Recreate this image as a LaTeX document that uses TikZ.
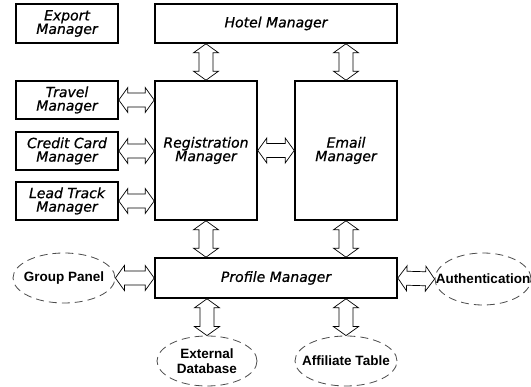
\documentclass[tikz,border=0pt]{standalone}
\usepackage{fontspec}
\setmainfont{DejaVu Sans}
\newfontfamily\boxfont{DejaVu Sans Oblique}[FakeBold=0.7]
\newfontfamily\ellfont{Liberation Sans Bold}
\usetikzlibrary{calc,shapes.geometric}
\newcommand{\zw}[1]{\makebox[0pt]{#1}}
\tikzset{
  box/.style={draw, line width=1.6pt, align=center, inner sep=0pt,
    font=\boxfont\fontsize{14}{13.5}\selectfont},
  oval/.style={ellipse, draw=black!70, line width=0.8pt, dash pattern=on 8pt off 5pt,
    inner sep=0pt, align=center, font=\ellfont\fontsize{13.5}{15}\selectfont},
  fat/.style={draw, fill=white, line width=0.7pt, line join=miter, to path={
    (\tikztostart)
    -- ($(\tikztostart)!9pt!(\tikztotarget)!12.5pt!90:(\tikztotarget)$)
    -- ($(\tikztostart)!9pt!(\tikztotarget)!7pt!90:(\tikztotarget)$)
    -- ($(\tikztotarget)!9pt!(\tikztostart)!7pt!-90:(\tikztostart)$)
    -- ($(\tikztotarget)!9pt!(\tikztostart)!12.5pt!-90:(\tikztostart)$)
    -- (\tikztotarget)
    -- ($(\tikztotarget)!9pt!(\tikztostart)!12.5pt!90:(\tikztostart)$)
    -- ($(\tikztotarget)!9pt!(\tikztostart)!7pt!90:(\tikztostart)$)
    -- ($(\tikztostart)!9pt!(\tikztotarget)!7pt!-90:(\tikztotarget)$)
    -- ($(\tikztostart)!9pt!(\tikztotarget)!12.5pt!-90:(\tikztotarget)$)
    -- cycle}}
}
\begin{document}
\begin{tikzpicture}[x=1pt,y=-1pt]
\useasboundingbox[fill=white] (0,0) rectangle (531,387);
% boxes
\node[box, minimum width=102pt, minimum height=39pt] (export) at (67,23.5) {Export\\Manager};
\node[box, minimum width=242pt, minimum height=39pt] (hotel) at (276,23.5) {Hotel Manager};
\node[box, minimum width=102pt, minimum height=38pt] (travel) at (67,100) {Travel\\Manager};
\node[box, minimum width=102pt, minimum height=38pt] (credit) at (67,151) {Credit Card\\Manager};
\node[box, minimum width=102pt, minimum height=38pt] (lead) at (67,201) {Lead Track\\Manager};
\node[box, minimum width=102pt, minimum height=139pt] (reg) at (206,150.5) {Registration\\Manager};
\node[box, minimum width=102pt, minimum height=139pt] (email) at (346,150.5) {Email\\Manager};
\node[box, minimum width=242pt, minimum height=40pt] (profile) at (276,278) {Profile Manager};
% ellipses
\node[oval, minimum width=102pt, minimum height=50pt] (group) at (64,278) {\zw{Group Panel}};
\node[oval, minimum width=100pt, minimum height=50pt] (ext) at (207,361) {\zw{External}\\\zw{Database}};
\node[oval, minimum width=102pt, minimum height=50pt] (aff) at (346,361) {\zw{Affiliate Table}};
\node[oval, minimum width=96pt, minimum height=52pt] (auth) at (483,279) {\zw{Authentication}};
% connectors
\draw[fat] (reg.north |- hotel.south) to (reg.north);
\draw[fat] (email.north |- hotel.south) to (email.north);
\draw[fat] (travel.east) to (travel.east -| reg.west);
\draw[fat] (credit.east) to (credit.east -| reg.west);
\draw[fat] (lead.east) to (lead.east -| reg.west);
\draw[fat] (reg.east) to (email.west);
\draw[fat] (reg.south) to (reg.south |- profile.north);
\draw[fat] (email.south) to (email.south |- profile.north);
\draw[fat] (group.east) to (group.east -| profile.west);
\draw[fat] (profile.east) to (auth.west);
\draw[fat] (ext.north |- profile.south) to (ext.north);
\draw[fat] (aff.north |- profile.south) to (aff.north);
\end{tikzpicture}
\end{document}
